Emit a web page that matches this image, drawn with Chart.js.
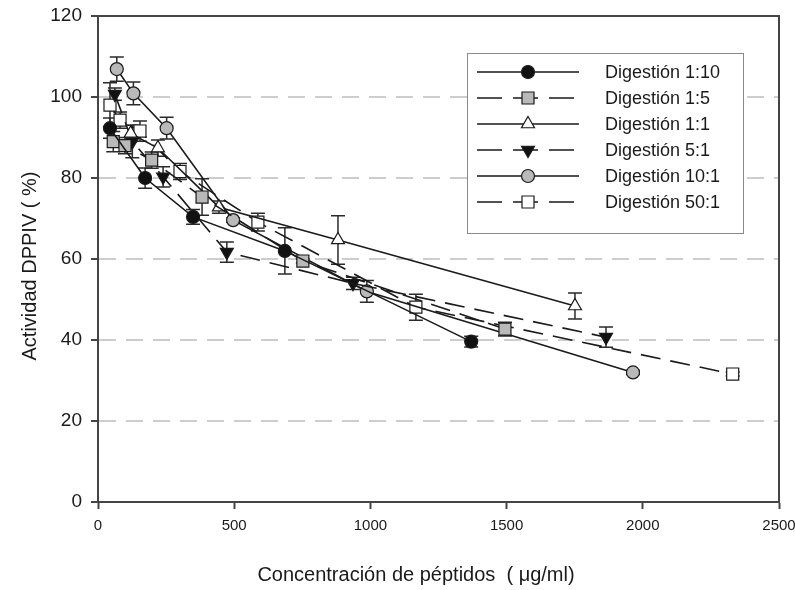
<!DOCTYPE html>
<html>
<head>
<meta charset="utf-8">
<script src="https://cdn.jsdelivr.net/npm/chart.js@4.4.1/dist/chart.umd.min.js"></script>
<style>
  html, body { margin: 0; padding: 0; background: #ffffff; }
  #wrap { width: 795px; height: 590px; }
</style>
</head>
<body>
<div id="wrap"><canvas id="chart" width="795" height="590"></canvas></div>
<script>
// Actividad DPPIV (%) frente a concentración de péptidos (µg/ml)
const seriesNames = ['Digestión 1:10', 'Digestión 1:5', 'Digestión 1:1', 'Digestión 5:1', 'Digestión 10:1', 'Digestión 50:1'];

const conc1_10 = [44, 173, 349, 686, 1370];
const act1_10  = [92.3, 80.0, 70.4, 62.0, 39.6];
const err1_10  = [2.5, 2.5, 1.8, 5.7, 1.3];

const conc1_5 = [56, 99, 197, 382, 752, 1494];
const act1_5  = [89.0, 88.0, 84.4, 75.3, 59.5, 42.7];
const err1_5  = [2.5, 2.0, 2.0, 4.5, 0.5, 1.7];

const conc1_1 = [120, 220, 444, 881, 1751];
const act1_1  = [91.0, 87.4, 72.8, 64.7, 48.4];
const err1_1  = [2.0, 2.0, 1.5, 6.0, 3.2];

const conc5_1 = [62, 126, 239, 473, 936, 1865];
const act5_1  = [100.7, 89.0, 80.3, 61.7, 54.0, 40.7];
const err5_1  = [1.5, 4.0, 2.5, 2.5, 1.5, 2.5];

const conc10_1 = [69, 130, 252, 496, 987, 1964];
const act10_1  = [106.9, 100.9, 92.3, 69.6, 52.0, 32.0];
const err10_1  = [3.0, 2.8, 2.7, 0.5, 2.7, 0.5];

const conc50_1 = [44, 81, 154, 301, 587, 1167, 2330];
const act50_1  = [98.0, 94.3, 91.6, 81.6, 69.1, 48.1, 31.6];
const err50_1  = [5.5, 2.0, 2.5, 2.0, 2.2, 3.2, 0.5];

const xTicks = [0, 500, 1000, 1500, 2000, 2500];
const yTicks = [0, 20, 40, 60, 80, 100, 120];

const FONT = '"Liberation Sans", Arial, sans-serif';
const INK = '#1a1a1a';
const AXIS = '#454545';
const GREY_FILL = '#b9b9b9';

function pts(xs, ys) {
    return xs.map((x, i) => ({ x: x, y: ys[i] }));
}

function makeSet(i, xs, ys, errs, style) {
    return {
        label: seriesNames[i],
        data: pts(xs, ys),
        errors: errs,
        borderColor: INK,
        borderWidth: 1.6,
        borderDash: style.dashed ? [20, 10] : [],
        pointStyle: style.shape,
        pointRotation: style.rotation || 0,
        pointRadius: style.radius,
        pointHoverRadius: style.radius,
        pointBackgroundColor: style.fill,
        pointBorderColor: INK,
        pointBorderWidth: 1.2,
        showLine: true,
        tension: 0
    };
}

const datasets = [
    makeSet(0, conc1_10, act1_10, err1_10, { shape: 'circle', radius: 6.5, fill: '#111111', dashed: false }),
    makeSet(1, conc1_5, act1_5, err1_5, { shape: 'rect', radius: 8.5, fill: GREY_FILL, dashed: true }),
    makeSet(2, conc1_1, act1_1, err1_1, { shape: 'triangle', radius: 7.5, fill: '#ffffff', dashed: false }),
    makeSet(3, conc5_1, act5_1, err5_1, { shape: 'triangle', radius: 7.5, rotation: 180, fill: '#111111', dashed: true }),
    makeSet(4, conc10_1, act10_1, err10_1, { shape: 'circle', radius: 6.5, fill: GREY_FILL, dashed: false }),
    makeSet(5, conc50_1, act50_1, err50_1, { shape: 'rect', radius: 8.5, fill: '#ffffff', dashed: true })
];

// Barras de error verticales con tope
const errorBars = {
    id: 'errorBars',
    beforeDatasetsDraw(chart) {
        const ctx = chart.ctx;
        const xs = chart.scales.x;
        const ys = chart.scales.y;
        ctx.save();
        ctx.strokeStyle = '#2a2a2a';
        ctx.lineWidth = 1.5;
        chart.data.datasets.forEach(ds => {
            (ds.data || []).forEach((p, i) => {
                const e = ds.errors ? ds.errors[i] : 0;
                if (!e) return;
                const px = xs.getPixelForValue(p.x);
                const top = ys.getPixelForValue(p.y + e);
                const bot = ys.getPixelForValue(p.y - e);
                ctx.beginPath();
                ctx.moveTo(px, top); ctx.lineTo(px, bot);
                ctx.moveTo(px - 7, top); ctx.lineTo(px + 7, top);
                ctx.moveTo(px - 7, bot); ctx.lineTo(px + 7, bot);
                ctx.stroke();
            });
        });
        ctx.restore();
    }
};

// Marco, títulos de ejes y leyenda
const decorations = {
    id: 'decorations',
    afterDraw(chart) {
        const ctx = chart.ctx;
        const a = chart.chartArea;
        ctx.save();

        ctx.strokeStyle = AXIS;
        ctx.lineWidth = 2;
        ctx.setLineDash([]);
        ctx.strokeRect(a.left, a.top, a.right - a.left, a.bottom - a.top);

        ctx.fillStyle = INK;
        ctx.font = '20px ' + FONT;
        ctx.textAlign = 'center';
        ctx.textBaseline = 'middle';
        ctx.fillText('Concentración de péptidos  ( μg/ml)', 416, 575);
        ctx.save();
        ctx.translate(30, 266);
        ctx.rotate(-Math.PI / 2);
        ctx.fillText('Actividad DPPIV ( %)', 0, 0);
        ctx.restore();

        // leyenda
        const bx = 467, by = 53, bw = 276, bh = 180;
        ctx.fillStyle = '#ffffff';
        ctx.fillRect(bx, by, bw, bh);
        ctx.strokeStyle = '#8a8a8a';
        ctx.lineWidth = 1;
        ctx.strokeRect(bx + 0.5, by + 0.5, bw, bh);

        chart.data.datasets.forEach((ds, i) => {
            const y = 72 + i * 26;
            ctx.strokeStyle = INK;
            ctx.lineWidth = 1.6;
            ctx.setLineDash(ds.borderDash.length ? [25, 11] : []);
            ctx.beginPath();
            ctx.moveTo(477, y);
            ctx.lineTo(579, y);
            ctx.stroke();
            ctx.setLineDash([]);
            ctx.fillStyle = ds.pointBackgroundColor;
            ctx.strokeStyle = INK;
            ctx.lineWidth = 1.2;
            Chart.helpers.drawPoint(ctx, {
                pointStyle: ds.pointStyle,
                rotation: ds.pointRotation,
                radius: ds.pointRadius,
                borderWidth: 1.2
            }, 528, y);
            ctx.fillStyle = INK;
            ctx.font = '18px ' + FONT;
            ctx.textAlign = 'left';
            ctx.textBaseline = 'middle';
            ctx.fillText(ds.label, 605, y + 1);
        });
        ctx.restore();
    }
};

new Chart(document.getElementById('chart'), {
    type: 'scatter',
    data: { datasets: datasets },
    options: {
        responsive: false,
        animation: false,
        devicePixelRatio: 1,
        layout: { padding: { left: 0, top: 16, right: 16, bottom: 0 } },
        plugins: {
            legend: { display: false },
            tooltip: { enabled: false }
        },
        scales: {
            x: {
                type: 'linear',
                min: 0,
                max: 2500,
                afterBuildTicks: s => { s.ticks = xTicks.map(v => ({ value: v })); },
                afterFit: s => { s.height = 88; s.paddingLeft = 0; s.paddingRight = 0; },
                grid: {
                    drawOnChartArea: false,
                    tickLength: 7,
                    tickColor: AXIS,
                    tickWidth: 2,
                    tickBorderDash: []
                },
                border: { color: AXIS, width: 2 },
                ticks: {
                    color: INK,
                    font: { family: FONT, size: 15 },
                    padding: 8,
                    maxRotation: 0,
                    callback: v => String(v)
                }
            },
            y: {
                type: 'linear',
                min: 0,
                max: 120,
                afterBuildTicks: s => { s.ticks = yTicks.map(v => ({ value: v })); },
                afterFit: s => { s.width = 98; s.paddingTop = 0; s.paddingBottom = 0; },
                grid: {
                    color: c => (c.tick && (c.tick.value === 0 || c.tick.value === 120)) ? 'rgba(0,0,0,0)' : '#cdcdcd',
                    lineWidth: 2,
                    tickLength: 7,
                    tickColor: AXIS,
                    tickWidth: 2,
                    tickBorderDash: []
                },
                border: { color: AXIS, width: 2, dash: [17, 10] },
                ticks: {
                    color: INK,
                    font: { family: FONT, size: 19 },
                    padding: 9
                }
            }
        }
    },
    plugins: [errorBars, decorations]
});
</script>
</body>
</html>
